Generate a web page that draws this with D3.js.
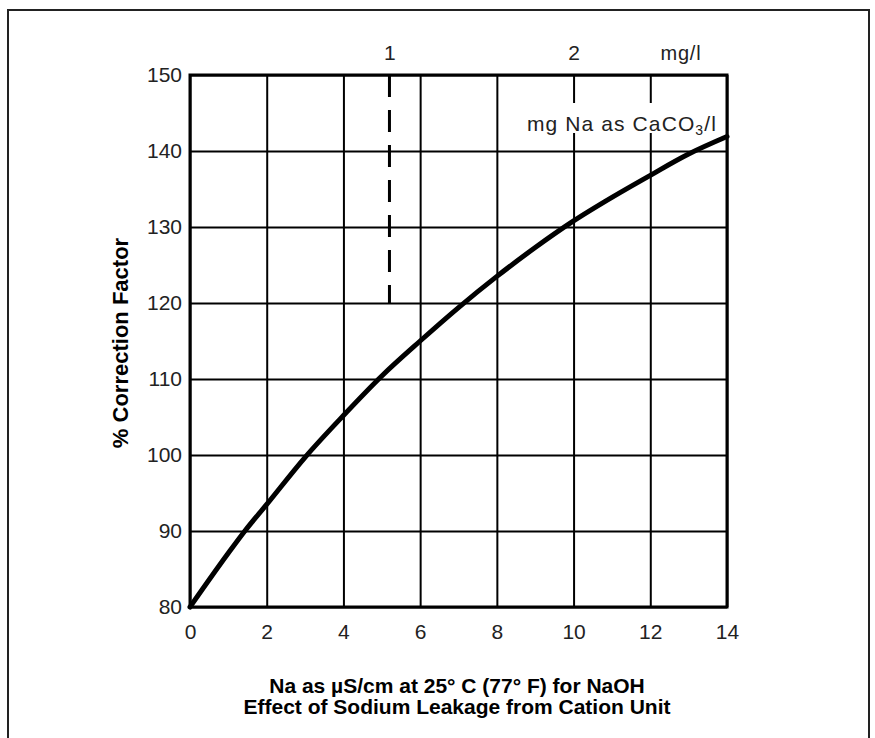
<!DOCTYPE html>
<html>
<head>
<meta charset="utf-8">
<script src="https://cdn.jsdelivr.net/npm/d3@7"></script>
<style>
  body { margin: 0; background: #fff; }
  svg { display: block; }
  .tick text { font-family: "Liberation Sans", Arial, sans-serif; font-size: 21px; fill: #222; }
  .title { font-family: "Liberation Sans", Arial, sans-serif; font-size: 21px; font-weight: bold; fill: #000; }
  .lbl { font-family: "Liberation Sans", Arial, sans-serif; font-size: 20px; fill: #222; }
</style>
</head>
<body>
<div id="chart"></div>
<script>
// data
var xTicks = [0, 2, 4, 6, 8, 10, 12, 14];
var yTicks = [80, 90, 100, 110, 120, 130, 140, 150];
var naConductivity = [0, 1, 1.43, 2, 3, 4, 5, 6, 7, 8, 9, 10, 11, 12, 13, 14];
var correction = [80, 87.1, 90, 93.5, 99.7, 105.2, 110.4, 115, 119.4, 123.5, 127.3, 130.8, 133.9, 136.8, 139.6, 141.9];
var topTickValues = [5.2, 10];
var topTickLabels = ["1", "2"];
var topUnitPos = 12.8;
var dashX = 5.2;
var dashRange = [150, 120];

//Width and height
var w = 875;
var h = 738;
var plotLeft = 190, plotRight = 727, plotTop = 75, plotBottom = 607;

var svg = d3.select("#chart")
    .append("svg")
    .attr("width", w)
    .attr("height", h);

//outer frame (bottom edge falls outside the page)
svg.append("path")
    .attr("d", "M8," + (h + 10) + "V10H869V" + (h + 10))
    .attr("fill", "none")
    .attr("stroke", "#222")
    .attr("stroke-width", 2);

var xScale = d3.scaleLinear().domain([0, 14]).range([plotLeft, plotRight]);
var yScale = d3.scaleLinear().domain([80, 150]).range([plotBottom, plotTop]);

//grid
svg.append("g")
    .attr("transform", "translate(0," + plotBottom + ")")
    .call(d3.axisBottom(xScale).tickValues(xTicks).tickSize(-(plotBottom - plotTop)).tickFormat(""))
    .call(function (g) { g.select(".domain").remove(); })
    .selectAll("line")
    .attr("stroke", "#000")
    .attr("stroke-width", 2);

svg.append("g")
    .attr("transform", "translate(" + plotLeft + ",0)")
    .call(d3.axisLeft(yScale).tickValues(yTicks).tickSize(-(plotRight - plotLeft)).tickFormat(""))
    .call(function (g) { g.select(".domain").remove(); })
    .selectAll("line")
    .attr("stroke", "#000")
    .attr("stroke-width", 2);

//label box covers the grid
svg.append("rect")
    .attr("x", 512)
    .attr("y", 103)
    .attr("width", plotRight - 512 - 2)
    .attr("height", 30)
    .attr("fill", "#fff");

var legend = svg.append("text")
    .attr("class", "lbl")
    .attr("x", 527)
    .attr("y", 131)
    .style("font-size", "21px")
    .style("letter-spacing", "1.1px");
legend.append("tspan").text("mg Na as CaCO");
legend.append("tspan").attr("dy", 4).style("font-size", "14px").text("3");
legend.append("tspan").attr("dy", -4).text("/l");

//plot frame
svg.append("rect")
    .attr("x", plotLeft)
    .attr("y", plotTop)
    .attr("width", plotRight - plotLeft)
    .attr("height", plotBottom - plotTop)
    .attr("fill", "none")
    .attr("stroke", "#000")
    .attr("stroke-width", 3);

//axes labels
svg.append("g")
    .attr("transform", "translate(0," + plotBottom + ")")
    .call(d3.axisBottom(xScale).tickValues(xTicks).tickSize(0).tickPadding(17))
    .call(function (g) { g.select(".domain").remove(); });

svg.append("g")
    .attr("transform", "translate(" + plotLeft + ",0)")
    .call(d3.axisLeft(yScale).tickValues(yTicks).tickSize(0).tickPadding(8))
    .call(function (g) { g.select(".domain").remove(); });

svg.append("g")
    .attr("transform", "translate(0," + (plotTop - 15) + ")")
    .call(d3.axisTop(xScale).tickValues(topTickValues).tickSize(0).tickPadding(0)
        .tickFormat(function (d, i) { return topTickLabels[i]; }))
    .call(function (g) { g.select(".domain").remove(); });

svg.append("text")
    .attr("class", "lbl")
    .attr("x", xScale(topUnitPos))
    .attr("y", plotTop - 15)
    .attr("text-anchor", "middle")
    .style("letter-spacing", "0.8px")
    .text("mg/l");

//dashed reference line
svg.append("line")
    .attr("x1", xScale(dashX))
    .attr("x2", xScale(dashX))
    .attr("y1", yScale(dashRange[0]))
    .attr("y2", yScale(dashRange[1]))
    .attr("stroke", "#000")
    .attr("stroke-width", 3)
    .attr("stroke-dasharray", "22,13");

//curve
var line = d3.line()
    .x(function (d, i) { return xScale(naConductivity[i]); })
    .y(function (d) { return yScale(d); })
    .curve(d3.curveMonotoneX);

svg.append("path")
    .datum(correction)
    .attr("d", line)
    .attr("fill", "none")
    .attr("stroke", "#000")
    .attr("stroke-width", 5)
    .attr("stroke-linecap", "round");

//titles
svg.append("text")
    .attr("class", "title")
    .attr("transform", "translate(128,343) rotate(-90)")
    .attr("text-anchor", "middle")
    .style("font-size", "22px")
    .text("% Correction Factor");

svg.append("text")
    .attr("class", "title")
    .attr("x", 457)
    .attr("y", 693)
    .attr("text-anchor", "middle")
    .text("Na as \u00b5S/cm at 25\u00b0 C (77\u00b0 F) for NaOH");

svg.append("text")
    .attr("class", "title")
    .attr("x", 457)
    .attr("y", 714)
    .attr("text-anchor", "middle")
    .text("Effect of Sodium Leakage from Cation Unit");
</script>
</body>
</html>
